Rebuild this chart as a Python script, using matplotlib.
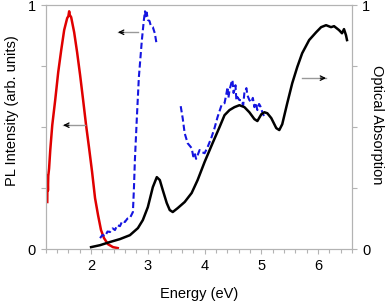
import numpy as np
from matplotlib import pyplot as plt

plt.rcParams['font.family'] = ['Liberation Sans', 'DejaVu Sans']

# PL spectrum (red, solid)
pl1_e = [1.228, 1.232, 1.240, 1.246, 1.260, 1.281, 1.316, 1.368, 1.421, 1.474, 1.526,
         1.579, 1.600, 1.614, 1.625, 1.649, 1.702, 1.754, 1.807, 1.860, 1.912,
         1.965, 2.018, 2.070, 2.123, 2.175, 2.228, 2.298, 2.386, 2.470]
pl1_v = [0.193, 0.300, 0.240, 0.300, 0.330, 0.406, 0.508, 0.611, 0.725, 0.816, 0.898,
         0.947, 0.955, 0.975, 0.960, 0.951, 0.889, 0.807, 0.713, 0.611, 0.508,
         0.414, 0.316, 0.209, 0.139, 0.078, 0.045, 0.020, 0.008, 0.004]

# PL / excitation (blue, dashed) - two segments
pl2a_e = [2.158, 2.200, 2.246, 2.290, 2.333, 2.380, 2.421, 2.460, 2.509, 2.550, 2.596,
          2.640, 2.684, 2.737, 2.754, 2.772, 2.807, 2.842, 2.895, 2.930, 2.950,
          2.965, 2.980, 3.000, 3.030, 3.053, 3.088, 3.123, 3.158]
pl2a_v = [0.045, 0.058, 0.053, 0.072, 0.070, 0.085, 0.078, 0.098, 0.094, 0.115, 0.111,
          0.125, 0.127, 0.152, 0.242, 0.365, 0.541, 0.705, 0.857, 0.939, 0.975,
          0.950, 0.970, 0.940, 0.935, 0.915, 0.910, 0.885, 0.836]
pl2b_e = [3.579, 3.614, 3.649, 3.702, 3.772, 3.800, 3.825, 3.850, 3.877, 3.912, 3.947,
          4.000, 4.053, 4.123, 4.175, 4.228, 4.298, 4.351, 4.386, 4.404, 4.420,
          4.439, 4.474, 4.491, 4.510, 4.526, 4.544, 4.560, 4.579, 4.614, 4.649,
          4.680, 4.702, 4.737, 4.754, 4.789, 4.825, 4.850, 4.877, 4.900, 4.930,
          4.960, 4.982, 5.018, 5.053]
pl2b_v = [0.586, 0.537, 0.475, 0.434, 0.414, 0.380, 0.393, 0.370, 0.385, 0.406, 0.398,
          0.393, 0.418, 0.459, 0.496, 0.541, 0.590, 0.598, 0.639, 0.664, 0.620,
          0.652, 0.684, 0.693, 0.640, 0.652, 0.672, 0.610, 0.623, 0.611, 0.611,
          0.590, 0.643, 0.660, 0.631, 0.611, 0.602, 0.620, 0.582, 0.600, 0.570,
          0.595, 0.586, 0.561, 0.541]

# Optical absorption (black, solid)
abs_e = [2.000, 2.158, 2.333, 2.509, 2.684, 2.825, 2.912, 3.000, 3.088, 3.158, 3.211,
         3.263, 3.333, 3.386, 3.439, 3.526, 3.649, 3.772, 3.877, 4.000, 4.140,
         4.263, 4.351, 4.439, 4.526, 4.614, 4.702, 4.789, 4.877, 4.930, 5.000,
         5.053, 5.105, 5.175, 5.263, 5.316, 5.368, 5.456, 5.544, 5.632, 5.719,
         5.842, 5.965, 6.053, 6.140, 6.228, 6.281, 6.368, 6.421, 6.456, 6.491, 6.509]
abs_v = [0.008, 0.016, 0.029, 0.041, 0.057, 0.086, 0.119, 0.172, 0.254, 0.295, 0.283,
         0.242, 0.189, 0.160, 0.152, 0.168, 0.193, 0.230, 0.283, 0.357, 0.434,
         0.500, 0.549, 0.570, 0.582, 0.590, 0.582, 0.561, 0.533, 0.525, 0.553,
         0.561, 0.557, 0.537, 0.496, 0.488, 0.512, 0.598, 0.680, 0.746, 0.803,
         0.857, 0.889, 0.910, 0.918, 0.910, 0.914, 0.898, 0.885, 0.902, 0.877, 0.857]

# arrows: (tail_x, head_x, y)
arrows = [(1.895, 1.509, 0.508), (2.825, 2.474, 0.889), (5.719, 6.14, 0.701)]

fig = plt.figure(figsize=(3.87, 3.06), dpi=100)
ax = fig.add_axes([0.118, 0.186, 0.792, 0.797])
ax2 = ax.twinx()

ax.plot(pl1_e, pl1_v, color='#e00000', lw=1.8)
ax.plot(pl2a_e, pl2a_v, color='#1515e0', lw=1.5, ls=(0, (3, 1.5)))
ax.plot(pl2b_e, pl2b_v, color='#1515e0', lw=1.5, ls=(0, (3, 1.5)))
ax2.plot(abs_e, abs_v, color='black', lw=1.8)

for x0, x1, y in arrows:
    ax.plot([x0, x1], [y, y], color='0.6', lw=1)
    d = 0.1 if x1 < x0 else -0.1
    ax.annotate('', xy=(x1, y), xytext=(x1 + d, y),
                arrowprops=dict(arrowstyle='->', color='black', lw=0.9,
                                mutation_scale=8, shrinkA=0, shrinkB=0))

for a in (ax, ax2):
    a.set_xlim(1.2, 6.6)
    a.set_ylim(0, 1)
    a.set_yticks([0, 0.25, 0.5, 0.75, 1])
    a.set_yticklabels(['0', '', '', '', '1'])
    for s in a.spines.values():
        s.set_color('0.7')
    a.tick_params(colors='0.7', labelcolor='black', labelsize=10.5, length=3.5, width=0.8)

ax.set_xticks([2, 3, 4, 5, 6])
ax.set_xticks(np.arange(1.2, 6.61, 0.2), minor=True)
ax.tick_params(axis='x', which='minor', colors='0.7', length=3, width=0.8)
ax.set_xlabel('Energy (eV)', fontsize=10.5, labelpad=10)
fig.text(0.031, 0.637, 'PL Intensity (arb. units)', fontsize=10.5,
         rotation=90, ha='center', va='center')
fig.text(0.975, 0.593, 'Optical Absorption', fontsize=10.5,
         rotation=270, ha='center', va='center')

fig.savefig('out.png', dpi=100)
